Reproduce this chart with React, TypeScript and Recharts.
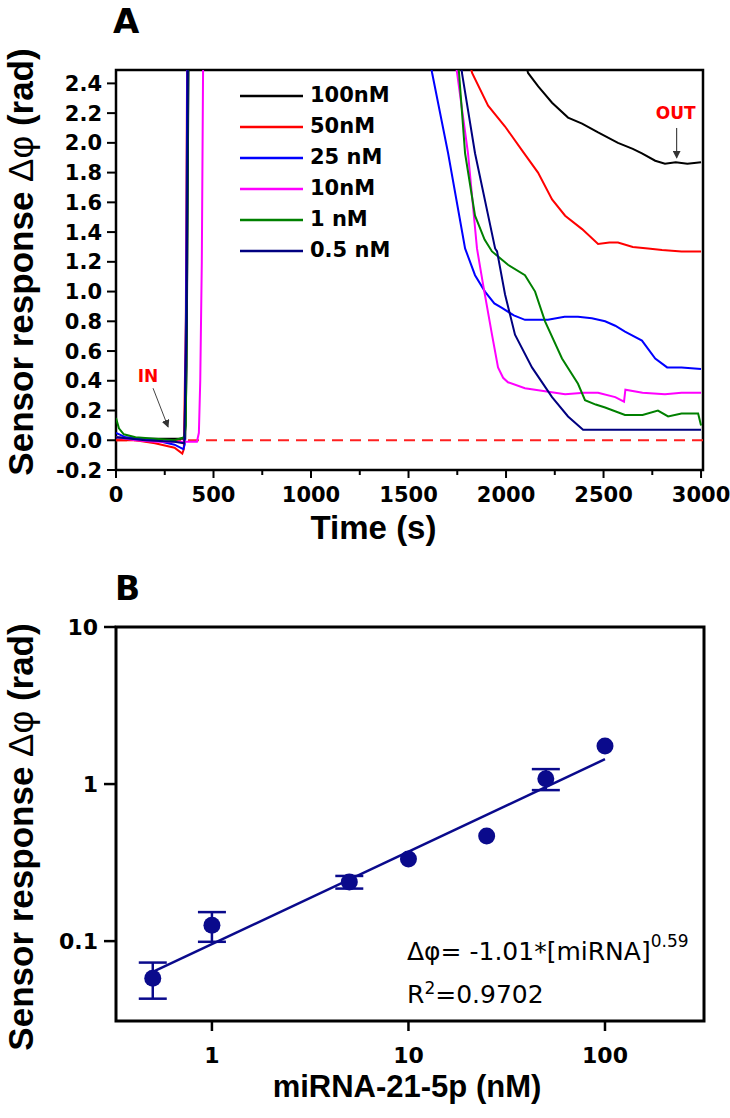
import React from 'react'
import {
  LineChart, Line, XAxis, YAxis, ReferenceLine, ReferenceArea, ReferenceDot, Legend,
  ComposedChart, Scatter, ErrorBar,
} from 'recharts'

const TICK_FONT = '"DejaVu Sans", sans-serif'
const TITLE_FONT = '"Liberation Sans", Arial, sans-serif'
const NAVY = '#0a0a8c'

// Panel A: phase traces, [time (s), Δφ (rad)].
// Values above 2.49 sit outside the axis and are clipped, as in the original.
const trace100 = [
  [0, 0.02], [100, 0.01], [200, 0.01], [300, 0.01], [355, 0.01], [362, 0.5], [372, 2.6], [380, 3.2],
  [2000, 3.2], [2095, 2.56], [2113, 2.47], [2165, 2.38], [2236, 2.27], [2318, 2.17], [2390, 2.13],
  [2472, 2.07], [2574, 2.0], [2650, 1.96], [2697, 1.93], [2765, 1.88], [2815, 1.86], [2870, 1.87],
  [2930, 1.86], [3000, 1.87],
]
const trace50 = [
  [0, 0.0], [100, 0.0], [200, -0.02], [300, -0.05], [340, -0.09], [348, -0.06], [358, 0.8], [365, 2.6],
  [375, 3.2], [1750, 3.2], [1810, 2.56], [1826, 2.47], [1908, 2.25], [1995, 2.11], [2082, 1.95],
  [2164, 1.8], [2236, 1.62], [2303, 1.51], [2390, 1.42], [2472, 1.32], [2530, 1.33], [2574, 1.33],
  [2650, 1.3], [2728, 1.29], [2800, 1.28], [2900, 1.27], [3000, 1.27],
]
const trace25 = [
  [0, 0.05], [50, 0.02], [150, 0.01], [200, 0.0], [300, -0.03], [345, -0.06], [352, -0.03], [360, 1.0],
  [366, 2.6], [375, 3.2], [1580, 3.2], [1605, 2.6], [1621, 2.47], [1703, 1.93], [1790, 1.29],
  [1841, 1.11], [1892, 1.0], [1940, 0.92], [1979, 0.89], [2040, 0.84], [2097, 0.81], [2215, 0.81],
  [2300, 0.83], [2369, 0.83], [2440, 0.82], [2508, 0.8], [2560, 0.77], [2610, 0.73], [2697, 0.67],
  [2765, 0.55], [2826, 0.49], [2900, 0.49], [3000, 0.48],
]
const trace10 = [
  [0, 0.02], [100, 0.0], [200, -0.01], [300, -0.01], [360, -0.01], [415, -0.01], [425, 0.05], [432, 0.4],
  [440, 1.2], [447, 2.6], [455, 3.2], [1720, 3.2], [1740, 2.55], [1749, 2.47], [1805, 1.93],
  [1851, 1.29], [1882, 1.05], [1928, 0.71], [1959, 0.49], [1985, 0.42], [2010, 0.39], [2097, 0.35],
  [2200, 0.33], [2303, 0.31], [2400, 0.32], [2472, 0.32], [2560, 0.29], [2605, 0.26], [2612, 0.34],
  [2700, 0.32], [2815, 0.31], [2900, 0.32], [3000, 0.32],
]
const trace1 = [
  [0, 0.15], [15, 0.08], [40, 0.04], [100, 0.02], [200, 0.01], [300, 0.0], [350, 0.02], [358, 0.1],
  [365, 1.2], [371, 2.6], [380, 3.2], [1730, 3.2], [1750, 2.6], [1759, 2.47], [1790, 1.93],
  [1841, 1.51], [1890, 1.35], [1928, 1.27], [2010, 1.18], [2097, 1.11], [2149, 1.0], [2200, 0.8],
  [2287, 0.55], [2369, 0.38], [2405, 0.27], [2460, 0.24], [2508, 0.22], [2610, 0.17], [2700, 0.17],
  [2779, 0.2], [2831, 0.16], [2900, 0.18], [2985, 0.18], [3000, 0.1],
]
const trace05 = [
  [0, 0.02], [150, 0.0], [300, -0.01], [350, -0.02], [362, 0.8], [369, 2.6], [378, 3.2],
  [1750, 3.2], [1765, 2.6], [1774, 2.47], [1841, 1.93], [1944, 1.29], [1954, 1.27], [1995, 0.98],
  [2046, 0.71], [2133, 0.49], [2236, 0.29], [2318, 0.16], [2395, 0.07], [2500, 0.07], [2700, 0.07],
  [3000, 0.07],
]

const SERIES_A = [
  { name: '100nM', color: '#000000', points: trace100 },
  { name: '50nM', color: '#ff0000', points: trace50 },
  { name: '25 nM', color: '#0000ff', points: trace25 },
  { name: '10nM', color: '#ff00ff', points: trace10 },
  { name: '1 nM', color: '#008000', points: trace1 },
  { name: '0.5 nM', color: '#000080', points: trace05 },
]

const TIME_TICKS = [0, 250, 500, 750, 1000, 1250, 1500, 1750, 2000, 2250, 2500, 2750, 3000]
const PHASE_TICKS = [-0.2, 0, 0.2, 0.4, 0.6, 0.8, 1.0, 1.2, 1.4, 1.6, 1.8, 2.0, 2.2, 2.4]

// Panel B: calibration points
const CONC = [0.5, 1, 5, 10, 25, 50, 100]
const RESPONSE = [0.058, 0.126, 0.238, 0.333, 0.467, 1.08, 1.75]
const RESPONSE_ERR = [0.015, 0.027, 0.022, 0, 0, 0.165, 0]
const FIT_CONC = [0.5, 100]
const FIT_RESPONSE = [0.0636, 1.44]
const CONC_TICKS = [1, 10, 100]
const RESP_TICKS = [0.1, 1, 10]

const pointsB = CONC.map((c, i) => ({ conc: c, response: RESPONSE[i], err: RESPONSE_ERR[i] }))
const fitB = FIT_CONC.map((c, i) => ({ conc: c, response: FIT_RESPONSE[i] }))

function TimeTick(props: any) {
  const { x, y, payload } = props
  const major = payload.value % 500 === 0
  return (
    <g>
      <line x1={x} x2={x} y1={y} y2={y + (major ? 8 : 5)} stroke="#000" strokeWidth={2} />
      {major && (
        <text x={x} y={y + 32} textAnchor="middle" fontFamily={TICK_FONT} fontWeight="bold" fontSize={21} fill="#000">
          {payload.value}
        </text>
      )}
    </g>
  )
}

function PhaseTick(props: any) {
  const { x, y, payload } = props
  return (
    <g>
      <line x1={x - 9} x2={x} y1={y} y2={y} stroke="#000" strokeWidth={2} />
      <text x={x - 14} y={y + 7.5} textAnchor="end" fontFamily={TICK_FONT} fontWeight="bold" fontSize={21} fill="#000">
        {payload.value.toFixed(1)}
      </text>
    </g>
  )
}

function ConcTick(props: any) {
  const { x, y, payload } = props
  return (
    <g>
      <line x1={x} x2={x} y1={y} y2={y + 10} stroke="#000" strokeWidth={2.5} />
      <text x={x} y={y + 42} textAnchor="middle" fontFamily={TICK_FONT} fontWeight="bold" fontSize={22} fill="#000">
        {String(payload.value)}
      </text>
    </g>
  )
}

function RespTick(props: any) {
  const { x, y, payload } = props
  return (
    <g>
      <line x1={x - 12} x2={x} y1={y} y2={y} stroke="#000" strokeWidth={2.5} />
      <text x={x - 18} y={y + 8} textAnchor="end" fontFamily={TICK_FONT} fontWeight="bold" fontSize={22} fill="#000">
        {String(payload.value)}
      </text>
    </g>
  )
}

const phaseTitle = (dx: number, dy: number) => (props: any) => {
  const { x, y, height } = props.viewBox
  const cx = x + dx
  const cy = y + height / 2 + dy
  return (
    <text x={cx} y={cy} transform={`rotate(-90 ${cx} ${cy})`} textAnchor="middle"
      fontFamily={TITLE_FONT} fontSize={35} fontWeight="bold" fill="#000">
      Sensor response <tspan fontWeight="normal">Δφ</tspan> (rad)
    </text>
  )
}

const xTitle = (text: string, dx: number, dy: number, size: number) => (props: any) => {
  const { x, y, width } = props.viewBox
  return (
    <text x={x + width / 2 + dx} y={y + dy} textAnchor="middle" fontFamily={TITLE_FONT}
      fontSize={size} fontWeight="bold" fill="#000">
      {text}
    </text>
  )
}

const renderLegend = () => (
  <div style={{ fontFamily: TICK_FONT, fontWeight: 'bold', fontSize: 21, color: '#000' }}>
    {SERIES_A.map((s) => (
      <div key={s.name} style={{ display: 'flex', alignItems: 'center', height: 31 }}>
        <svg width={63} height={4} style={{ display: 'block' }}>
          <line x1={0} x2={63} y1={2} y2={2} stroke={s.color} strokeWidth={2.5} />
        </svg>
        <span style={{ marginLeft: 7, lineHeight: 1, whiteSpace: 'nowrap' }}>{s.name}</span>
      </div>
    ))}
  </div>
)

export default function App() {
  return (
    <div style={{ position: 'absolute', left: 0, top: 0, width: 730, height: 1118, background: '#fff' }}>
      <div style={{ position: 'absolute', left: 0, top: 0 }}>
        <LineChart width={730} height={550} margin={{ top: 70, right: 27, bottom: 0, left: 50 }}>
          <XAxis dataKey="t" type="number" domain={[0, 3010]} ticks={TIME_TICKS} interval={0}
            tick={(p: any) => <TimeTick {...p} />} tickLine={false} tickSize={0} tickMargin={0}
            axisLine={false} height={80} allowDataOverflow
            label={{ content: xTitle('Time (s)', -36, 69, 33) }} />
          <YAxis type="number" domain={[-0.2, 2.49]} ticks={PHASE_TICKS} interval={0}
            tick={(p: any) => <PhaseTick {...p} />} tickLine={false} tickSize={0} tickMargin={0}
            axisLine={false} width={66} allowDataOverflow
            label={{ content: phaseTitle(-17, -8) }} />
          <ReferenceLine y={0} stroke="#ff2020" strokeWidth={2} strokeDasharray="11 7" />
          {SERIES_A.map((s) => (
            <Line key={s.name} data={s.points.map(([t, v]) => ({ t, v }))} dataKey="v" name={s.name}
              type="linear" stroke={s.color} strokeWidth={2} dot={false} isAnimationActive={false} />
          ))}
          <ReferenceLine segment={[{ x: 190, y: 0.35 }, { x: 267, y: 0.09 }]} stroke="#444" strokeWidth={1}
            markerEnd="url(#arrowHead)" />
          <ReferenceLine segment={[{ x: 2875, y: 2.1 }, { x: 2875, y: 1.9 }]} stroke="#222" strokeWidth={1}
            markerEnd="url(#arrowHead)" />
          <ReferenceDot x={164} y={0.43} r={0} stroke="none"
            label={{ value: 'IN', position: 'center', fill: '#ff0000', fontSize: 17, fontWeight: 'bold', fontFamily: TICK_FONT }} />
          <ReferenceDot x={2870} y={2.2} r={0} stroke="none"
            label={{ value: 'OUT', position: 'center', fill: '#ff0000', fontSize: 17, fontWeight: 'bold', fontFamily: TICK_FONT }} />
          <ReferenceArea x1={0} x2={3010} y1={-0.2} y2={2.49} fill="none" stroke="#000" strokeWidth={2.5}
            ifOverflow="visible" />
          <Legend layout="vertical" align="center" verticalAlign="middle" content={renderLegend}
            wrapperStyle={{ position: 'absolute', top: 80, left: 240, width: 'auto', height: 'auto' }} />
        </LineChart>
      </div>

      <div style={{ position: 'absolute', left: 0, top: 550 }}>
        <ComposedChart width={730} height={568} margin={{ top: 77, right: 26, bottom: 0, left: 50 }}>
          <XAxis dataKey="conc" type="number" scale="log" domain={[0.325, 319]} ticks={CONC_TICKS} interval={0}
            tick={(p: any) => <ConcTick {...p} />} tickLine={false} tickSize={0} tickMargin={0}
            axisLine={false} height={97} allowDataOverflow
            label={{ content: xTitle('miRNA-21-5p (nM)', -3, 76, 31) }} />
          <YAxis dataKey="response" type="number" scale="log" domain={[0.031, 10]} ticks={RESP_TICKS} interval={0}
            tick={(p: any) => <RespTick {...p} />} tickLine={false} tickSize={0} tickMargin={0}
            axisLine={false} width={66} allowDataOverflow
            label={{ content: phaseTitle(-17, 13) }} />
          <Line data={fitB} dataKey="response" type="linear" stroke={NAVY} strokeWidth={2.5} dot={false}
            isAnimationActive={false} />
          <Scatter data={pointsB} dataKey="response" fill={NAVY} isAnimationActive={false}
            shape={(p: any) => <circle cx={p.cx} cy={p.cy} r={8.5} fill={NAVY} />}>
            <ErrorBar dataKey="err" direction="y" width={14} stroke={NAVY} strokeWidth={2.5} />
          </Scatter>
          <ReferenceArea x1={0.325} x2={319} y1={0.031} y2={10} fill="none" stroke="#000" strokeWidth={3}
            ifOverflow="visible" />
        </ComposedChart>
      </div>

      <svg width={730} height={1118} style={{ position: 'absolute', left: 0, top: 0, pointerEvents: 'none' }}>
        <defs>
          <marker id="arrowHead" markerWidth={8} markerHeight={8} refX={7} refY={4} orient="auto"
            markerUnits="userSpaceOnUse">
            <path d="M0,0 L8,4 L0,8 z" fill="#333" />
          </marker>
        </defs>
        <text x={113} y={33} fontFamily={TICK_FONT} fontWeight="bold" fontSize={34} fill="#000">A</text>
        <text x={115} y={600} fontFamily={TICK_FONT} fontWeight="bold" fontSize={33} fill="#000">B</text>
        <text x={407} y={960} fontFamily={TICK_FONT} fontSize={25} fill="#000">
          Δφ= -1.01*[miRNA]<tspan dy={-13} fontSize={17}>0.59</tspan>
        </text>
        <text x={407} y={1003} fontFamily={TICK_FONT} fontSize={25} fill="#000">
          R<tspan dy={-9} fontSize={17}>2</tspan><tspan dy={9} fontSize={25}>=0.9702</tspan>
        </text>
      </svg>
    </div>
  )
}
